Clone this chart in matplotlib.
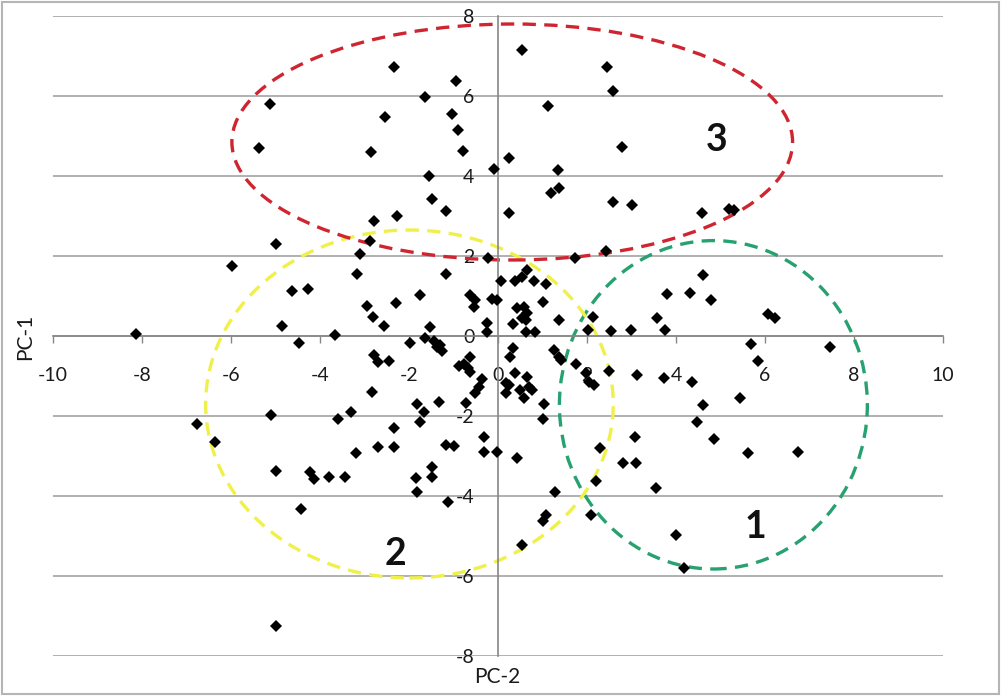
import numpy as np
import matplotlib
matplotlib.use("Agg")
import matplotlib.pyplot as plt
from matplotlib.patches import Ellipse, Rectangle

plt.rcParams['font.family'] = ['Lato', 'DejaVu Sans']

## punti (PC-2 sull'asse x, PC-1 sull'asse y)
pc2 = [-5.12, -5.37, 0.53, -2.33, -0.95, -1.63, -2.54, -1.04, -0.89, -2.86,
       -0.79, 0.24, -0.10, -1.56, -1.49, -1.17, -2.26, -2.79, 0.25, 1.13,
       2.46, 2.58, 2.78, 1.34, 1.37, 1.18, 2.58, 3.02, -2.88, 4.58,
       5.19, 5.30,
       -8.14, -5.97, -4.99, -4.63, -4.28, -4.86, -4.47, -3.66, -3.10, -3.17,
       -2.29, -2.95, -2.80, -2.56, -2.78, -2.70, -2.44, -2.84, -5.10, -3.30,
       -3.59, -0.23, -1.16, -1.76, -0.62, -0.51, -0.54, -0.13, -0.02, -1.53,
       -0.24, -0.24, -1.97, -1.63, -1.44, -1.37, -1.25, -1.31, -0.88, -0.77,
       -0.64, -0.68, -0.62, -0.36, -0.43, -0.51, -1.33, -1.82, -1.67, -0.73,
       0.06, 0.39, 0.54, 0.66, 0.82, 1.07, 1.01, 0.43, 0.58, 0.66,
       0.54, 0.64, 0.34, 0.62, 0.83, 1.37, 1.74, 2.43, 2.13, 2.02,
       2.55, 0.33, 0.27, 1.25, 1.37, 1.42, 1.76, 0.39, 0.66, 0.17,
       0.25, 0.17, 0.49, 0.69, 0.77, 0.58, 1.97, 2.04, 2.16, 1.03,
       4.60, 3.80, 4.31, 4.78, 3.58, 3.76, 2.98, 6.06, 6.22, 5.69,
       7.46, 5.85, 2.50, 3.13, 3.73, 4.35, 5.44, 4.60,
       -6.76, -6.35, -2.33, -3.20, -2.70, -2.33, -5.00, -4.22, -4.13, -3.80,
       -3.43, -1.76, -1.16, -1.48, -1.49, -1.84, -1.82, -1.12, -4.42, -5.00,
       1.01, -0.32, -0.99, -0.32, -0.02, 0.43, 1.28, 2.29, 3.08, 2.81,
       3.11, 2.20, 3.54, 1.08, 1.02, 2.10, 0.53, 4.00, 4.48, 4.85,
       5.62, 6.74, 4.17]
pc1 = [5.80, 4.70, 7.15, 6.73, 6.37, 5.97, 5.48, 5.54, 5.15, 4.61,
       4.63, 4.44, 4.17, 4.00, 3.43, 3.13, 3.00, 2.88, 3.08, 5.76,
       6.73, 6.13, 4.72, 4.15, 3.71, 3.57, 3.34, 3.28, 2.38, 3.07,
       3.17, 3.15,
       0.04, 1.75, 2.29, 1.12, 1.17, 0.26, -0.17, 0.02, 2.05, 1.54,
       0.83, 0.75, 0.48, 0.25, -0.48, -0.64, -0.62, -1.41, -1.98, -1.89,
       -2.08, 1.95, 1.55, 1.02, 1.02, 0.90, 0.72, 0.92, 0.90, 0.23,
       0.32, 0.11, -0.17, -0.06, -0.12, -0.27, -0.38, -0.22, -0.74, -0.70,
       -0.52, -0.81, -0.89, -1.08, -1.27, -1.43, -1.64, -1.71, -1.89, -1.67,
       1.37, 1.37, 1.48, 1.65, 1.38, 1.29, 0.86, 0.69, 0.73, 0.58,
       0.44, 0.40, 0.30, 0.11, 0.11, 0.40, 1.96, 2.13, 0.48, 0.15,
       0.12, -0.29, -0.53, -0.35, -0.52, -0.60, -0.70, -0.93, -1.02, -1.17,
       -1.22, -1.43, -1.35, -1.27, -1.35, -1.56, -0.93, -1.14, -1.22, -1.71,
       1.53, 1.04, 1.07, 0.90, 0.44, 0.15, 0.15, 0.55, 0.45, -0.20,
       -0.27, -0.62, -0.87, -0.97, -1.06, -1.14, -1.56, -1.73,
       -2.20, -2.66, -2.31, -2.93, -2.78, -2.78, -3.37, -3.39, -3.58, -3.52,
       -3.53, -2.14, -2.73, -3.27, -3.53, -3.56, -3.89, -4.15, -4.33, -7.24,
       -2.08, -2.52, -2.75, -2.89, -2.89, -3.04, -3.89, -2.79, -2.52, -3.17,
       -3.17, -3.62, -3.79, -4.47, -4.63, -4.47, -5.22, -4.97, -2.16, -2.58,
       -2.92, -2.89, -5.79]

## cluster (ellissi tratteggiate)
cluster_names = ["1", "2", "3"]
cluster_center = [(4.84, -1.72), (-1.99, -1.70), (0.32, 4.85)]
cluster_size = [(6.92, 8.21), (9.16, 8.70), (12.6, 5.9)]
cluster_color = ["#27a170", "#f0f04a", "#cf2530"]
label_pos = [(5.79, -4.78), (-2.30, -5.45), (4.91, 4.90)]

x_ticks = list(range(-10, 11, 2))
y_ticks = list(range(-8, 9, 2))

fig = plt.figure(figsize=(10.01, 6.96), dpi=100)
ax = fig.add_axes([53/1001, 40/696, 890/1001, 640/696])

ax.set_xlim(-10, 10)
ax.set_ylim(-8, 8)

# assi che si incrociano nell'origine (stile excel)
for s in ["top", "right"]:
    ax.spines[s].set_visible(False)
ax.spines["left"].set_position(("data", 0))
ax.spines["bottom"].set_position(("data", 0))
for s in ["left", "bottom"]:
    ax.spines[s].set_color("#868686")
    ax.spines[s].set_linewidth(1.2)

ax.set_xticks(x_ticks, labels=[str(v) for v in x_ticks])
ax.set_yticks(y_ticks, labels=[str(v) for v in y_ticks])
ax.tick_params(axis="x", direction="out", length=5, width=1, color="#868686",
               pad=17, labelsize=14, labelcolor="#1a1a1a")
ax.tick_params(axis="y", length=0, pad=17, labelsize=14, labelcolor="#1a1a1a")
ax.yaxis.grid(True, color="#a3a3a3", linewidth=1.2)
ax.set_axisbelow(True)

ax.plot(pc2, pc1, "D", color="black", ms=6.6, mew=0, zorder=3)

for name, c, wh, col, lp in zip(cluster_names, cluster_center, cluster_size,
                                cluster_color, label_pos):
    e = Ellipse(c, wh[0], wh[1], fill=False, edgecolor=col, linewidth=2.4,
                linestyle=(0, (4, 2.5)), zorder=2)
    ax.add_patch(e)
    ax.text(lp[0], lp[1], name, fontsize=27, fontweight="bold", ha="center",
            va="center", color="#111111", zorder=4)

fig.text(25/1001, 1 - 337/696, "PC-1", rotation=90, ha="center", va="center",
         fontsize=15, color="#1a1a1a")
fig.text(497/1001, 1 - 677/696, "PC-2", ha="center", va="center",
         fontsize=15, color="#1a1a1a")

# bordo grigio intorno alla figura
fig.patches.append(Rectangle((0.002, 0.003), 0.996, 0.994, transform=fig.transFigure,
                             fill=False, edgecolor="#b5b5b5", linewidth=1.5))

fig.savefig("out.png", dpi=100)
